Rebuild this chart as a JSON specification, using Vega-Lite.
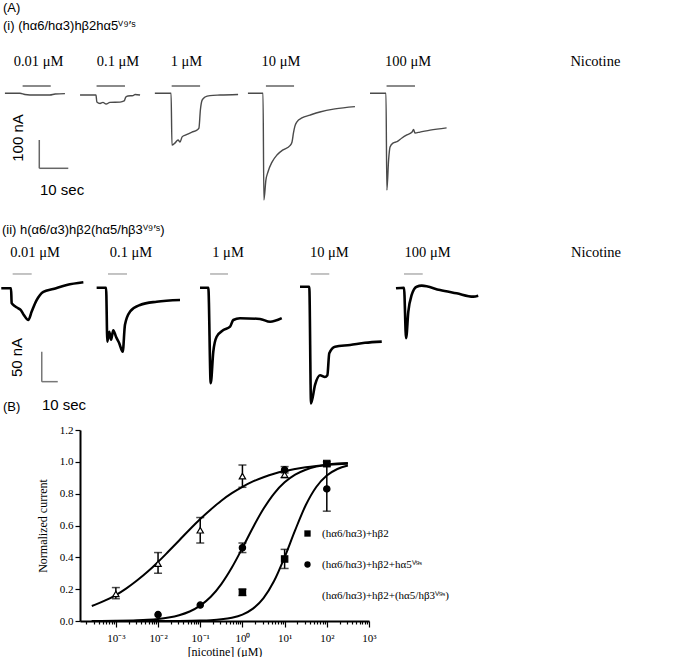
{
  "$schema": "https://vega.github.io/schema/vega-lite/v6.json",
  "padding": {"left": -4, "top": 2, "right": 0, "bottom": 0},
  "bounds": "flush",
  "spacing": 37,
  "config": {"view": {"stroke": null}, "font": "Liberation Sans"},
  "datasets": {
    "a1": [
      {"s":"0.01","t":1.7,"i":0},{"s":"0.01","t":6.9,"i":0},{"s":"0.01","t":8.6,"i":-4},{"s":"0.01","t":12,"i":-6},{"s":"0.01","t":17.2,"i":-6},{"s":"0.01","t":19.0,"i":-2.5},{"s":"0.01","t":22.4,"i":-1},
      {"s":"0.1","t":27.6,"i":-6},{"s":"0.1","t":33.1,"i":-6},{"s":"0.1","t":33.4,"i":-31},{"s":"0.1","t":34.5,"i":-36},{"s":"0.1","t":35.5,"i":-32},{"s":"0.1","t":36.6,"i":-38},{"s":"0.1","t":37.9,"i":-32},{"s":"0.1","t":41.4,"i":-31},{"s":"0.1","t":42.8,"i":-27},{"s":"0.1","t":43.4,"i":-13},{"s":"0.1","t":44.1,"i":-9.5},{"s":"0.1","t":45.9,"i":-8},{"s":"0.1","t":46.6,"i":-4},{"s":"0.1","t":48.3,"i":-6},
      {"s":"1","t":53.4,"i":0},{"s":"1","t":59.0,"i":0},{"s":"1","t":59.3,"i":-183},{"s":"1","t":60.3,"i":-176},{"s":"1","t":61.4,"i":-165},{"s":"1","t":62.1,"i":-172},{"s":"1","t":62.8,"i":-154},{"s":"1","t":64.1,"i":-147},{"s":"1","t":66.2,"i":-137},{"s":"1","t":67.9,"i":-130},{"s":"1","t":68.6,"i":-123},{"s":"1","t":69.1,"i":-59},{"s":"1","t":69.7,"i":-24},{"s":"1","t":70.7,"i":-13},{"s":"1","t":72.4,"i":-8},{"s":"1","t":75.9,"i":-6},{"s":"1","t":82.1,"i":-4},
      {"s":"10","t":85.5,"i":0},{"s":"10","t":90.7,"i":0},{"s":"10","t":91.0,"i":-377},{"s":"10","t":91.7,"i":-306},{"s":"10","t":92.4,"i":-278},{"s":"10","t":93.8,"i":-243},{"s":"10","t":95.5,"i":-218},{"s":"10","t":97.6,"i":-200},{"s":"10","t":100,"i":-185},{"s":"10","t":100.7,"i":-172},{"s":"10","t":101.2,"i":-140},{"s":"10","t":101.7,"i":-116},{"s":"10","t":102.4,"i":-101},{"s":"10","t":104.1,"i":-87},{"s":"10","t":106.9,"i":-77},{"s":"10","t":110.3,"i":-66},{"s":"10","t":115.5,"i":-55},{"s":"10","t":122.4,"i":-47},
      {"s":"100","t":127.6,"i":0},{"s":"100","t":133.1,"i":0},{"s":"100","t":133.4,"i":-342},{"s":"100","t":134.0,"i":-236},{"s":"100","t":134.5,"i":-190},{"s":"100","t":135.5,"i":-176},{"s":"100","t":136.9,"i":-171},{"s":"100","t":138.6,"i":-158},{"s":"100","t":140.3,"i":-147},{"s":"100","t":142.1,"i":-137},{"s":"100","t":142.6,"i":-128},{"s":"100","t":143.1,"i":-140},{"s":"100","t":144.8,"i":-137},{"s":"100","t":148.3,"i":-130},{"s":"100","t":154.0,"i":-122}
    ],
    "a1bars": [
      {"t":7.8,"t2":17.5,"i":25.8},{"t":33.3,"t2":43.1,"i":25.8},{"t":59.2,"t2":69.0,"i":25.8},{"t":91.7,"t2":101.4,"i":25.8},{"t":133.3,"t2":143.1,"i":25.8}
    ],
    "a1labels": [
      {"label":"0.01 μM","t":13.3,"i":110.6},{"label":"0.1 μM","t":40.7,"i":110.6},{"label":"1 μM","t":64.3,"i":110.6},{"label":"10 μM","t":96.9,"i":110.6},{"label":"100 μM","t":140.7,"i":110.6},{"label":"Nicotine","t":205.3,"i":110.6}
    ],
    "a1scale": [
      {"t":13.55,"t2":13.55,"i":-165,"i2":-265},{"t":13.55,"t2":23.55,"i":-265,"i2":-265}
    ],
    "a1ylab": [{"label":"100 nA","t":6.2,"i":-158}],
    "a1xlab": [{"label":"10 sec","t":21.4,"i":-342}],
    "a2": [
      {"s":"0.01","t":0.8,"i":-2},{"s":"0.01","t":6.9,"i":-2},{"s":"0.01","t":7.3,"i":-27},{"s":"0.01","t":9.4,"i":-32},{"s":"0.01","t":11.4,"i":-35.5},{"s":"0.01","t":12.9,"i":-38},{"s":"0.01","t":15,"i":-47},{"s":"0.01","t":17.7,"i":-55},{"s":"0.01","t":19.8,"i":-41},{"s":"0.01","t":22.9,"i":-22},{"s":"0.01","t":27.1,"i":-8},{"s":"0.01","t":33.3,"i":-3.3},{"s":"0.01","t":41.7,"i":3.3},{"s":"0.01","t":52.1,"i":7.8},
      {"s":"0.1","t":60.4,"i":-1.2},{"s":"0.1","t":66.3,"i":-1.2},{"s":"0.1","t":67.1,"i":-91},{"s":"0.1","t":68.3,"i":-74.5},{"s":"0.1","t":69.4,"i":-88},{"s":"0.1","t":70.8,"i":-72},{"s":"0.1","t":72.5,"i":-83},{"s":"0.1","t":74.4,"i":-93},{"s":"0.1","t":76.7,"i":-108},{"s":"0.1","t":78.1,"i":-63},{"s":"0.1","t":81.3,"i":-41},{"s":"0.1","t":87.5,"i":-30},{"s":"0.1","t":97.9,"i":-24.5},{"s":"0.1","t":112.5,"i":-21.7},
      {"s":"1","t":125,"i":-1.2},{"s":"1","t":130.2,"i":-1.2},{"s":"1","t":131.7,"i":-160.5},{"s":"1","t":133.3,"i":-108},{"s":"1","t":135.4,"i":-83},{"s":"1","t":139.6,"i":-71.7},{"s":"1","t":143.8,"i":-66},{"s":"1","t":145.8,"i":-55},{"s":"1","t":150,"i":-52},{"s":"1","t":162.5,"i":-53.3},{"s":"1","t":168.8,"i":-58},{"s":"1","t":176.1,"i":-52},
      {"s":"10","t":187.5,"i":0.5},{"s":"10","t":193.3,"i":0.5},{"s":"10","t":194.4,"i":-194},{"s":"10","t":196.9,"i":-163},{"s":"10","t":200,"i":-147},{"s":"10","t":203.1,"i":-150},{"s":"10","t":204.6,"i":-147},{"s":"10","t":205.8,"i":-110.5},{"s":"10","t":209.4,"i":-99.5},{"s":"10","t":218.8,"i":-96.7},{"s":"10","t":228.1,"i":-93},{"s":"10","t":238.6,"i":-91},
      {"s":"100","t":247.5,"i":-2.2},{"s":"100","t":252.5,"i":-1.2},{"s":"100","t":253.8,"i":-85.5},{"s":"100","t":255.2,"i":-41},{"s":"100","t":257.3,"i":-13.3},{"s":"100","t":260.4,"i":0.5},{"s":"100","t":263.6,"i":2.2},{"s":"100","t":275,"i":-5},{"s":"100","t":285.4,"i":-10.5},{"s":"100","t":295.8,"i":-16},{"s":"100","t":298.9,"i":-14.5}
    ],
    "a2bars": [
      {"t":7.9,"t2":19.8,"i":21.7},{"t":67.5,"t2":79.4,"i":21.7},{"t":131.3,"t2":142.5,"i":21.7},{"t":194.2,"t2":205.8,"i":21.7},{"t":252.5,"t2":264.2,"i":21.7}
    ],
    "a2labels": [
      {"label":"0.01 μM","t":21.9,"i":56.7},{"label":"0.1 μM","t":81.9,"i":56.7},{"label":"1 μM","t":142.5,"i":56.7},{"label":"10 μM","t":205.8,"i":56.7},{"label":"100 μM","t":267.2,"i":56.7},{"label":"Nicotine","t":372.5,"i":56.7}
    ],
    "a2scale": [
      {"t":26.1,"t2":26.1,"i":-107.8,"i2":-157.8},{"t":26.1,"t2":36.1,"i":-157.8,"i2":-157.8}
    ],
    "a2ylab": [{"label":"50 nA","t":10.8,"i":-117.5}],
    "a2xlab": [{"label":"10 sec","t":40,"i":-196.7}],
    "pts": [
      {"series":"(hα6/hα3)+hβ2","conc":1,"mean":0.18,"lo":0.16,"hi":0.2},
      {"series":"(hα6/hα3)+hβ2","conc":10,"mean":0.39,"lo":0.33,"hi":0.45},
      {"series":"(hα6/hα3)+hβ2","conc":100,"mean":0.99,"lo":0.98,"hi":1.0},
      {"series":"(hα6/hα3)+hβ2+hα5ⱽ⁹ˢ","conc":0.01,"mean":0.04,"lo":null,"hi":null},
      {"series":"(hα6/hα3)+hβ2+hα5ⱽ⁹ˢ","conc":0.1,"mean":0.1,"lo":null,"hi":null},
      {"series":"(hα6/hα3)+hβ2+hα5ⱽ⁹ˢ","conc":1,"mean":0.46,"lo":0.43,"hi":0.49},
      {"series":"(hα6/hα3)+hβ2+hα5ⱽ⁹ˢ","conc":10,"mean":0.95,"lo":0.93,"hi":0.97},
      {"series":"(hα6/hα3)+hβ2+hα5ⱽ⁹ˢ","conc":100,"mean":0.83,"lo":0.69,"hi":0.97},
      {"series":"(hα6/hα3)+hβ2+(hα5/hβ3ⱽ⁹ˢ)","conc":0.001,"mean":0.17,"lo":0.14,"hi":0.21},
      {"series":"(hα6/hα3)+hβ2+(hα5/hβ3ⱽ⁹ˢ)","conc":0.01,"mean":0.36,"lo":0.3,"hi":0.43},
      {"series":"(hα6/hα3)+hβ2+(hα5/hβ3ⱽ⁹ˢ)","conc":0.1,"mean":0.57,"lo":0.49,"hi":0.65},
      {"series":"(hα6/hα3)+hβ2+(hα5/hβ3ⱽ⁹ˢ)","conc":1,"mean":0.91,"lo":0.84,"hi":0.98},
      {"series":"(hα6/hα3)+hβ2+(hα5/hβ3ⱽ⁹ˢ)","conc":10,"mean":0.92,"lo":0.9,"hi":0.94}
    ],
    "fits": [
      {"series":"S3","conc":0.000269,"y":0.094},{"series":"S3","conc":0.000316,"y":0.101},{"series":"S3","conc":0.000562,"y":0.129},{"series":"S3","conc":0.001,"y":0.163},{"series":"S3","conc":0.00178,"y":0.205},{"series":"S3","conc":0.00316,"y":0.254},{"series":"S3","conc":0.00562,"y":0.309},{"series":"S3","conc":0.01,"y":0.371},{"series":"S3","conc":0.0178,"y":0.438},{"series":"S3","conc":0.0316,"y":0.506},{"series":"S3","conc":0.0562,"y":0.575},{"series":"S3","conc":0.1,"y":0.641},{"series":"S3","conc":0.178,"y":0.701},{"series":"S3","conc":0.316,"y":0.756},{"series":"S3","conc":0.562,"y":0.803},{"series":"S3","conc":1,"y":0.843},{"series":"S3","conc":1.78,"y":0.877},{"series":"S3","conc":3.16,"y":0.903},{"series":"S3","conc":5.62,"y":0.925},{"series":"S3","conc":10,"y":0.942},{"series":"S3","conc":17.8,"y":0.955},{"series":"S3","conc":31.6,"y":0.966},{"series":"S3","conc":56.2,"y":0.974},{"series":"S3","conc":100,"y":0.98},{"series":"S3","conc":178,"y":0.985},{"series":"S3","conc":316,"y":0.988},
      {"series":"S2","conc":0.000269,"y":0.0005},{"series":"S2","conc":0.001,"y":0.0017},{"series":"S2","conc":0.00316,"y":0.0048},{"series":"S2","conc":0.00562,"y":0.008},{"series":"S2","conc":0.01,"y":0.0133},{"series":"S2","conc":0.0178,"y":0.0221},{"series":"S2","conc":0.0316,"y":0.0365},{"series":"S2","conc":0.0562,"y":0.0599},{"series":"S2","conc":0.1,"y":0.0966},{"series":"S2","conc":0.178,"y":0.152},{"series":"S2","conc":0.316,"y":0.232},{"series":"S2","conc":0.562,"y":0.336},{"series":"S2","conc":1,"y":0.459},{"series":"S2","conc":1.78,"y":0.588},{"series":"S2","conc":3.16,"y":0.705},{"series":"S2","conc":5.62,"y":0.801},{"series":"S2","conc":10,"y":0.871},{"series":"S2","conc":17.8,"y":0.919},{"series":"S2","conc":31.6,"y":0.95},{"series":"S2","conc":56.2,"y":0.97},{"series":"S2","conc":100,"y":0.982},{"series":"S2","conc":178,"y":0.989},{"series":"S2","conc":316,"y":0.993},
      {"series":"S1","conc":0.000269,"y":0},{"series":"S1","conc":0.01,"y":0.0002},{"series":"S1","conc":0.0316,"y":0.0007},{"series":"S1","conc":0.1,"y":0.0027},{"series":"S1","conc":0.178,"y":0.0053},{"series":"S1","conc":0.316,"y":0.0105},{"series":"S1","conc":0.562,"y":0.0207},{"series":"S1","conc":1,"y":0.0405},{"series":"S1","conc":1.78,"y":0.0776},{"series":"S1","conc":3.16,"y":0.144},{"series":"S1","conc":5.62,"y":0.251},{"series":"S1","conc":10,"y":0.401},{"series":"S1","conc":17.8,"y":0.571},{"series":"S1","conc":31.6,"y":0.727},{"series":"S1","conc":56.2,"y":0.842},{"series":"S1","conc":100,"y":0.914},{"series":"S1","conc":178,"y":0.955},{"series":"S1","conc":316,"y":0.977}
    ]
  },
  "vconcat": [
    {
      "width": 605,
      "height": 165,
      "title": {"text": "(A)", "subtitle": "(i) (hα6/hα3)hβ2hα5ⱽ⁹′ˢ", "anchor": "start", "frame": "group", "dx": -77, "font": "Liberation Sans", "fontSize": 13, "fontWeight": "normal", "color": "black", "subtitleFont": "Liberation Sans", "subtitleFontSize": 13, "subtitleColor": "black", "subtitlePadding": 5, "offset": 7},
      "encoding": {
        "x": {"field": "t", "type": "quantitative", "scale": {"domain": [27.59, 236.21], "nice": false, "zero": false}, "axis": null},
        "y": {"field": "i", "type": "quantitative", "scale": {"domain": [-394.7, 188.4], "nice": false, "zero": false}, "axis": null}
      },
      "layer": [
        {"data": {"name": "a1"}, "mark": {"type": "line", "color": "#4a4a4a", "strokeWidth": 1.4, "interpolate": "monotone"}, "encoding": {"detail": {"field": "s"}}},
        {"data": {"name": "a1bars"}, "mark": {"type": "rule", "color": "#8a8a8a", "strokeWidth": 2}, "encoding": {"x2": {"field": "t2"}}},
        {"data": {"name": "a1scale"}, "mark": {"type": "rule", "color": "#666666", "strokeWidth": 1.5}, "encoding": {"x2": {"field": "t2"}, "y2": {"field": "i2"}}},
        {"data": {"name": "a1labels"}, "mark": {"type": "text", "font": "Liberation Serif", "fontSize": 14.5, "color": "black", "align": "center", "baseline": "middle"}, "encoding": {"text": {"field": "label"}}},
        {"data": {"name": "a1ylab"}, "mark": {"type": "text", "font": "Liberation Sans", "fontSize": 15, "color": "black", "angle": 270, "align": "center", "baseline": "middle"}, "encoding": {"text": {"field": "label"}}},
        {"data": {"name": "a1xlab"}, "mark": {"type": "text", "font": "Liberation Sans", "fontSize": 15, "color": "black", "align": "center", "baseline": "middle"}, "encoding": {"text": {"field": "label"}}}
      ]
    },
    {
      "width": 605,
      "height": 151,
      "title": {"text": "(ii) h(α6/α3)hβ2(hα5/hβ3ⱽ⁹′ˢ)", "anchor": "start", "frame": "group", "dx": -78, "font": "Liberation Sans", "fontSize": 13, "fontWeight": "normal", "color": "black", "offset": 5},
      "encoding": {
        "x": {"field": "t", "type": "quantitative", "scale": {"domain": [50, 428.125], "nice": false, "zero": false}, "axis": null},
        "y": {"field": "i", "type": "quantitative", "scale": {"domain": [-176.7, 75], "nice": false, "zero": false}, "axis": null}
      },
      "layer": [
        {"data": {"name": "a2"}, "mark": {"type": "line", "color": "black", "strokeWidth": 2.6, "interpolate": "monotone"}, "encoding": {"detail": {"field": "s"}}},
        {"data": {"name": "a2bars"}, "mark": {"type": "rule", "color": "#b0b0b0", "strokeWidth": 1.5}, "encoding": {"x2": {"field": "t2"}}},
        {"data": {"name": "a2scale"}, "mark": {"type": "rule", "color": "#777777", "strokeWidth": 1.5}, "encoding": {"x2": {"field": "t2"}, "y2": {"field": "i2"}}},
        {"data": {"name": "a2labels"}, "mark": {"type": "text", "font": "Liberation Serif", "fontSize": 14.5, "color": "black", "align": "center", "baseline": "middle"}, "encoding": {"text": {"field": "label"}}},
        {"data": {"name": "a2ylab"}, "mark": {"type": "text", "font": "Liberation Sans", "fontSize": 15, "color": "black", "angle": 270, "align": "center", "baseline": "middle"}, "encoding": {"text": {"field": "label"}}},
        {"data": {"name": "a2xlab"}, "mark": {"type": "text", "font": "Liberation Sans", "fontSize": 15, "color": "black", "align": "center", "baseline": "middle"}, "encoding": {"text": {"field": "label"}}}
      ]
    },
    {
      "width": 289,
      "height": 191,
      "title": {"text": "(B)", "anchor": "start", "frame": "group", "dx": -77, "font": "Liberation Sans", "fontSize": 13, "fontWeight": "normal", "color": "black", "offset": 10},
      "layer": [
        {
          "data": {"name": "fits"},
          "mark": {"type": "line", "color": "black", "strokeWidth": 2, "interpolate": "monotone"},
          "encoding": {
            "x": {"field": "conc", "type": "quantitative"},
            "y": {"field": "y", "type": "quantitative"},
            "detail": {"field": "series"}
          }
        },
        {
          "data": {"name": "pts"},
          "transform": [{"filter": "datum.lo != null"}],
          "mark": {"type": "rule", "color": "black", "strokeWidth": 1.5},
          "encoding": {
            "x": {"field": "conc", "type": "quantitative"},
            "y": {"field": "lo", "type": "quantitative"},
            "y2": {"field": "hi"}
          }
        },
        {
          "data": {"name": "pts"},
          "transform": [{"filter": "datum.lo != null"}, {"fold": ["lo", "hi"], "as": ["end", "val"]}],
          "mark": {"type": "tick", "color": "black", "orient": "horizontal", "size": 8, "thickness": 1.5},
          "encoding": {
            "x": {"field": "conc", "type": "quantitative"},
            "y": {"field": "val", "type": "quantitative"}
          }
        },
        {
          "data": {"name": "pts"},
          "mark": {"type": "point", "stroke": "black", "strokeWidth": 1.2, "opacity": 1, "size": 40},
          "encoding": {
            "x": {"field": "conc", "type": "quantitative"},
            "y": {"field": "mean", "type": "quantitative"},
            "shape": {"field": "series", "type": "nominal", "scale": {"domain": ["(hα6/hα3)+hβ2", "(hα6/hα3)+hβ2+hα5ⱽ⁹ˢ", "(hα6/hα3)+hβ2+(hα5/hβ3ⱽ⁹ˢ)"], "range": ["square", "circle", "triangle-up"]}, "legend": {"title": null, "orient": "none", "legendX": 222, "legendY": 488, "labelFont": "Liberation Serif", "labelFontSize": 11, "labelColor": "black", "rowPadding": 18, "symbolSize": 40, "symbolStrokeColor": "black", "symbolStrokeWidth": 1.2, "labelOffset": 9, "labelLimit": 400}},
            "fill": {"field": "series", "type": "nominal", "scale": {"domain": ["(hα6/hα3)+hβ2", "(hα6/hα3)+hβ2+hα5ⱽ⁹ˢ", "(hα6/hα3)+hβ2+(hα5/hβ3ⱽ⁹ˢ)"], "range": ["black", "black", "white"]}, "legend": {"title": null, "orient": "none", "legendX": 222, "legendY": 488, "labelFont": "Liberation Serif", "labelFontSize": 11, "labelColor": "black", "rowPadding": 18, "symbolSize": 40, "symbolStrokeColor": "black", "symbolStrokeWidth": 1.2, "labelOffset": 9, "labelLimit": 400}}
          }
        }
      ],
      "encoding": {
        "x": {
          "field": "conc", "type": "quantitative",
          "scale": {"type": "log", "domain": [0.0001413, 1000], "nice": false},
          "axis": {
            "title": "[nicotine] (μM)",
            "values": [0.0002,0.0003,0.0004,0.0005,0.0006,0.0007,0.0008,0.0009,0.001,0.002,0.003,0.004,0.005,0.006,0.007,0.008,0.009,0.01,0.02,0.03,0.04,0.05,0.06,0.07,0.08,0.09,0.1,0.2,0.3,0.4,0.5,0.6,0.7,0.8,0.9,1,2,3,4,5,6,7,8,9,10,20,30,40,50,60,70,80,90,100,200,300,400,500,600,700,800,900,1000],
            "labelExpr": "abs(log(datum.value)/LN10 - round(log(datum.value)/LN10)) < 0.01 ? ['10⁻³','10⁻²','10⁻¹','10⁰','10¹','10²','10³'][round(log(datum.value)/LN10)+3] : ''",
            "tickSize": {"condition": {"test": "abs(log(datum.value)/LN10 - round(log(datum.value)/LN10)) < 0.01", "value": 6}, "value": 3},
            "grid": false, "domainColor": "black", "domainWidth": 2, "tickColor": "black", "tickWidth": 1.2,
            "labelFont": "Liberation Serif", "labelFontSize": 11, "labelColor": "black", "labelOverlap": false, "labelFlush": false, "labelPadding": 5,
            "titleFont": "Liberation Serif", "titleFontSize": 12, "titleFontWeight": "normal", "titleColor": "black", "titlePadding": 3
          }
        },
        "y": {
          "field": "mean", "type": "quantitative",
          "scale": {"domain": [0, 1.2], "nice": false},
          "axis": {
            "title": "Normalized current",
            "values": [0, 0.2, 0.4, 0.6, 0.8, 1.0, 1.2], "format": ".1f",
            "grid": false, "domainColor": "black", "domainWidth": 2, "tickColor": "black", "tickWidth": 1.2, "tickSize": 5,
            "labelFont": "Liberation Serif", "labelFontSize": 11, "labelColor": "black", "labelPadding": 2,
            "titleFont": "Liberation Serif", "titleFontSize": 12, "titleFontWeight": "normal", "titleColor": "black", "titlePadding": 10
          }
        }
      }
    }
  ]
}
